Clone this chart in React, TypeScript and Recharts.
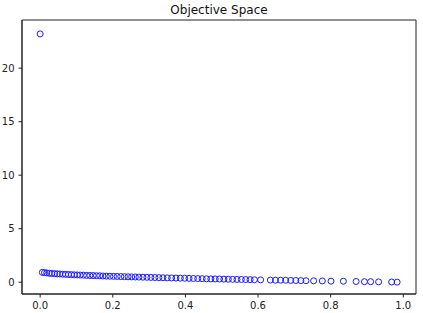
import { ScatterChart, Scatter, XAxis, YAxis, ReferenceArea } from "recharts";

const objX = [
  0.0, 0.006, 0.012, 0.018, 0.025, 0.032, 0.04, 0.047, 0.054, 0.062, 0.07, 0.078, 0.086, 0.094,
  0.102, 0.11, 0.119, 0.128, 0.137, 0.146, 0.155, 0.164, 0.173, 0.182, 0.192, 0.202, 0.212,
  0.222, 0.232, 0.242, 0.252, 0.262, 0.272, 0.283, 0.294, 0.305, 0.316, 0.327, 0.338, 0.35,
  0.362, 0.374, 0.386, 0.398, 0.41, 0.422, 0.434, 0.446, 0.458, 0.47, 0.482, 0.494, 0.506,
  0.518, 0.53, 0.542, 0.554, 0.566, 0.578, 0.59, 0.607, 0.634, 0.648, 0.662, 0.676, 0.69,
  0.704, 0.718, 0.732, 0.753, 0.777, 0.801, 0.835, 0.87, 0.893, 0.91, 0.932, 0.968, 0.983,
];
const objY = [
  23.2, 0.92, 0.89, 0.87, 0.84, 0.82, 0.8, 0.78, 0.77, 0.75, 0.74, 0.72, 0.71, 0.69,
  0.68, 0.67, 0.66, 0.64, 0.63, 0.62, 0.61, 0.6, 0.58, 0.57, 0.56, 0.55, 0.54,
  0.53, 0.52, 0.51, 0.5, 0.49, 0.48, 0.47, 0.46, 0.45, 0.44, 0.43, 0.42, 0.41,
  0.4, 0.39, 0.38, 0.37, 0.36, 0.35, 0.34, 0.33, 0.32, 0.31, 0.31, 0.3, 0.29,
  0.28, 0.27, 0.26, 0.26, 0.25, 0.24, 0.23, 0.22, 0.2, 0.19, 0.19, 0.18, 0.17,
  0.16, 0.15, 0.14, 0.13, 0.12, 0.1, 0.09, 0.07, 0.05, 0.05, 0.03, 0.02, 0.01,
];
const xTicks = [0, 0.2, 0.4, 0.6, 0.8, 1.0];
const yTicks = [0, 5, 10, 15, 20];
const xDomain = [-0.05, 1.035];
const yDomain = [-1.1, 24.5];

const points = objX.map((x, i) => ({ x, y: objY[i] }));

const tickStyle = { fontSize: 10, fill: "#222", fontFamily: "DejaVu Sans" };

const Ring = (props: any) => (
  <circle cx={props.cx} cy={props.cy} r={3} fill="none" stroke="#1a1aff" strokeWidth={1} />
);

export default function App() {
  return (
    <div style={{ position: "relative", width: 423, height: 313 }}>
      {/* the figure fills the whole window, so drop the default body margin */}
      <style>{"body{margin:0}"}</style>
      <div
        style={{
          position: "absolute",
          left: 22,
          width: 394,
          top: 3,
          textAlign: "center",
          fontFamily: "DejaVu Sans",
          fontSize: 12,
          color: "#111",
        }}
      >
        Objective Space
      </div>
      <ScatterChart width={423} height={313} margin={{ top: 20, right: 7, bottom: 0, left: 0 }}>
        <XAxis
          dataKey="x"
          type="number"
          domain={xDomain}
          allowDataOverflow
          ticks={xTicks}
          tickFormatter={(v: number) => v.toFixed(1)}
          tick={tickStyle}
          tickSize={3.5}
          tickMargin={4}
          height={19}
          stroke="#222"
        />
        <YAxis
          dataKey="y"
          type="number"
          domain={yDomain}
          allowDataOverflow
          ticks={yTicks}
          tick={tickStyle}
          tickSize={3.5}
          tickMargin={4}
          width={22}
          stroke="#222"
        />
        <ReferenceArea
          x1={xDomain[0]}
          x2={xDomain[1]}
          y1={yDomain[0]}
          y2={yDomain[1]}
          fill="none"
          stroke="#222"
          strokeWidth={1}
        />
        <Scatter data={points} shape={Ring} isAnimationActive={false} />
      </ScatterChart>
    </div>
  );
}
